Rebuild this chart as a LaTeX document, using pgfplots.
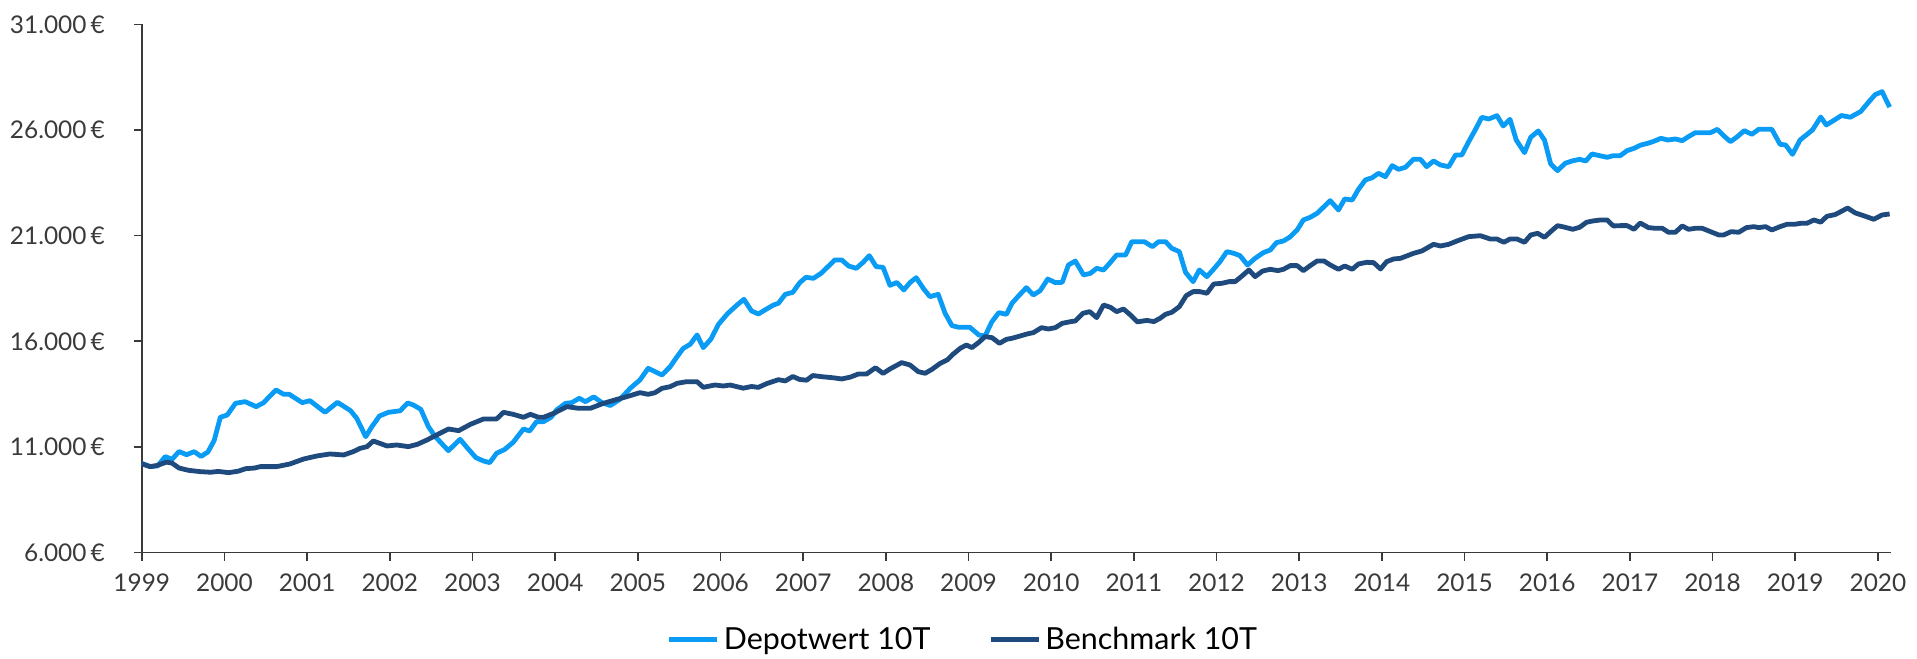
\documentclass[border=0pt]{standalone}
\usepackage{fontspec}
\setmainfont{Lato}
\usepackage{pgfplots}
\pgfplotsset{compat=1.18}
\definecolor{depot}{HTML}{0A9CF5}
\definecolor{bench}{HTML}{1F4A7E}
\definecolor{axgray}{HTML}{3A3A3A}
\begin{document}
\begin{tikzpicture}
\path[use as bounding box] (-70.9pt,-53.2pt) rectangle (887.6pt,276.25pt);
\begin{axis}[
  at={(0,0)}, anchor=south west,
  width=874.6pt, height=264pt, scale only axis,
  xmin=0, xmax=253.9, ymin=6000, ymax=31000,
  scaled y ticks=false, scaled x ticks=false,
  axis lines*=left,
  axis line style={axgray, line width=0.8pt},
  tick style={axgray, line width=0.8pt},
  tick align=outside, major tick length=4pt,
  xtick={0,12,...,252},
  xticklabels={1999,2000,2001,2002,2003,2004,2005,2006,2007,2008,2009,2010,2011,2012,2013,2014,2015,2016,2017,2018,2019,2020},
  ytick={6000,11000,16000,21000,26000,31000},
  yticklabels={6.000\,€,11.000\,€,16.000\,€,21.000\,€,26.000\,€,31.000\,€},
  tick label style={font=\fontsize{12.2}{14}\selectfont, text=axgray},
  yticklabel style={xshift=-11pt},
  xticklabel style={yshift=-3pt},
  clip=false,
  legend style={at={(0.470,-0.1655)}, anchor=center, draw=none, fill=none,
    legend columns=2, font=\fontsize{15.2}{18}\selectfont,
    /tikz/every even column/.append style={column sep=27pt}},
  legend image code/.code={\draw[#1, line width=2.5pt] (0pt,0pt) -- (24pt,0pt);},
]
\addplot[depot, line width=2.4pt, line join=round] table {
0 10220
1.2 10070
2.3 10100
3.4 10540
4.4 10413
5.4 10780
6.5 10630
7.6 10776
8.6 10550
9.6 10760
10.5 11300
11.4 12401
12.4 12511
13.6 13063
15 13143
16.6 12906
17.7 13095
18.5 13379
19.5 13695
20.6 13490
21.4 13490
23.3 13095
24.4 13190
26.6 12638
28.4 13111
30.3 12716
31.2 12353
32.5 11485
33.4 11959
34.5 12464
35.8 12638
37.5 12710
38.6 13080
39.4 12985
40.5 12780
41.6 11959
42.6 11485
44.5 10823
46.2 11359
47.3 10933
48.5 10491
49.6 10333
50.5 10255
51.5 10696
52.7 10886
53.9 11217
55.4 11848
56.3 11754
57.3 12195
58.3 12195
59.4 12401
60.2 12748
61.5 13063
62.4 13095
63.5 13300
64.4 13142
65.6 13370
66.8 13095
68 12960
69.4 13253
70.9 13774
72.3 14168
73.5 14720
75.5 14405
76.7 14800
77.7 15274
78.6 15668
79.6 15858
80.6 16300
81.5 15700
82.6 16100
83.7 16800
85 17300
86.4 17720
87.4 17988
88.5 17436
89.5 17294
90.7 17530
91.7 17720
92.4 17799
93.4 18225
94.5 18319
95.5 18777
96.4 19030
97.5 18982
98.6 19219
99.7 19566
100.6 19850
101.6 19850
102.6 19566
103.7 19455
104.7 19740
105.6 20055
106.6 19534
107.6 19503
108.6 18650
109.6 18785
110.6 18430
111.5 18777
112.4 19013
113.5 18477
114.4 18114
115.6 18224
116.6 17325
117.6 16741
118.6 16662
120.2 16662
121.5 16299
122.4 16252
123.4 16931
124.4 17357
125.5 17278
126.3 17798
127.3 18161
128.4 18540
129.4 18193
130.4 18398
131.5 18950
132.6 18777
133.6 18793
134.5 19613
135.5 19802
136.7 19140
137.7 19219
138.6 19455
139.6 19376
140.6 19739
141.5 20087
142.8 20087
143.7 20718
145.5 20718
146.7 20481
147.6 20718
148.6 20718
149.5 20403
150.6 20245
151.5 19267
152.6 18825
153.5 19377
154.6 19061
155.6 19424
156.5 19772
157.5 20245
158.5 20166
159.4 20056
160.5 19614
161.6 19929
162.8 20198
163.8 20324
164.7 20671
165.7 20750
166.6 20924
167.7 21271
168.6 21744
169.6 21871
170.6 22060
171.6 22375
172.5 22659
173.7 22218
174.6 22738
175.7 22691
176.6 23196
177.6 23638
178.6 23748
179.5 23953
180.5 23796
181.5 24316
182.4 24143
183.4 24237
184.6 24617
185.6 24617
186.5 24269
187.5 24538
188.5 24348
189.7 24269
190.7 24822
191.6 24822
192.6 25453
193.6 26037
194.5 26605
195.5 26526
196.7 26684
197.6 26195
198.6 26510
199.5 25532
200.7 24932
201.6 25658
202.7 25958
203.6 25532
204.5 24396
205.5 24080
206.6 24427
207.6 24538
208.7 24617
209.6 24538
210.5 24869
211.6 24790
212.7 24711
213.6 24790
214.6 24790
215.6 25027
216.6 25137
217.6 25295
218.6 25374
219.6 25485
220.5 25611
221.5 25532
222.6 25579
223.6 25500
224.5 25690
225.5 25879
226.7 25879
227.7 25879
228.7 26037
229.6 25737
230.6 25453
231.6 25690
232.6 25974
233.7 25800
234.7 26037
235.7 26037
236.6 26037
237.8 25327
238.6 25295
239.6 24853
240.7 25532
241.6 25769
242.5 26006
243.7 26620
244.5 26242
245.6 26460
246.7 26690
248 26610
249.5 26880
250.7 27346
251.6 27680
252.6 27820
253.7 27090
};
\addlegendentry{Depotwert 10T}
\addplot[bench, line width=2.4pt, line join=round] table {
0 10200
1.2 10065
2.2 10120
3.6 10280
4.4 10230
5.4 10000
6.8 9890
8.5 9828
10 9800
11.1 9840
12.6 9780
14 9850
15.1 9970
16.4 10000
17.2 10066
19.6 10066
21.5 10192
23.5 10428
25.4 10570
27.3 10665
29.3 10618
30.7 10776
31.7 10933
32.7 11012
33.6 11280
35.6 11044
37 11091
38.7 11012
40 11123
41.4 11328
42.8 11564
44.5 11848
46 11769
47.7 12069
49.6 12322
51.5 12322
52.5 12637
53.9 12543
55.4 12401
56.4 12543
57.6 12401
58.3 12401
59.8 12590
61.7 12905
63.4 12827
65.1 12826
67 13063
69 13253
70.4 13379
72.3 13568
73.5 13489
74.5 13568
75.5 13773
76.7 13852
77.7 14010
79.1 14089
80.6 14089
81.5 13821
83.2 13931
84.4 13884
85.4 13930
87.3 13780
88.5 13860
89.5 13818
90.7 13996
92.4 14183
93.4 14124
94.5 14334
95.5 14191
96.5 14159
97.4 14379
98.7 14325
100.4 14271
101.6 14217
102.8 14300
104 14450
105.2 14450
106.5 14750
107.6 14480
108.6 14690
110.3 14990
111.5 14879
112.7 14564
113.7 14485
114.7 14674
115.9 14958
116.9 15116
117.8 15400
118.8 15668
119.7 15826
120.5 15700
121.5 15952
122.4 16221
123.4 16173
124.5 15905
125.5 16094
126.3 16142
127.5 16252
128.5 16347
129.4 16410
130.6 16646
131.6 16583
132.6 16646
133.6 16851
134.8 16930
135.5 16962
136.6 17325
137.6 17404
138.6 17120
139.6 17719
140.6 17609
141.5 17404
142.5 17530
143.5 17246
144.5 16920
145.9 16990
146.9 16931
147.8 17089
148.6 17278
149.5 17373
150.6 17641
151.6 18162
152.6 18352
153.6 18352
154.6 18273
155.6 18714
156.8 18746
157.8 18825
158.7 18825
159.7 19093
160.7 19377
161.6 19061
162.7 19330
163.8 19409
164.9 19346
165.7 19409
166.7 19582
167.7 19582
168.6 19346
169.6 19582
170.6 19803
171.6 19803
172.5 19614
173.7 19409
174.6 19567
175.7 19409
176.6 19661
177.8 19740
178.8 19724
179.8 19424
180.7 19772
181.7 19898
182.7 19929
183.6 20040
184.6 20166
185.8 20277
187.5 20592
188.5 20513
189.7 20592
190.9 20750
192.6 20955
194.3 21000
195.7 20845
196.7 20845
197.7 20687
198.6 20845
199.6 20845
200.7 20687
201.6 21034
202.6 21113
203.6 20924
204.5 21192
205.5 21476
206.6 21397
207.7 21303
208.7 21397
209.7 21634
210.6 21697
211.7 21744
212.7 21744
213.6 21461
214.6 21476
215.6 21476
216.6 21303
217.5 21600
218.7 21382
219.7 21350
220.7 21350
221.6 21161
222.6 21161
223.6 21461
224.5 21303
225.5 21350
226.5 21350
227.7 21192
228.9 21034
229.6 21034
230.7 21192
231.8 21161
232.9 21382
234 21429
234.7 21382
235.7 21429
236.6 21271
237.8 21429
238.8 21540
239.9 21540
240.8 21587
241.7 21587
242.7 21745
243.7 21640
244.6 21920
245.8 22000
247.6 22310
248.7 22080
249.9 21950
251.4 21776
252.6 21981
253.7 22029
};
\addlegendentry{Benchmark 10T}
\end{axis}
\end{tikzpicture}
\end{document}
